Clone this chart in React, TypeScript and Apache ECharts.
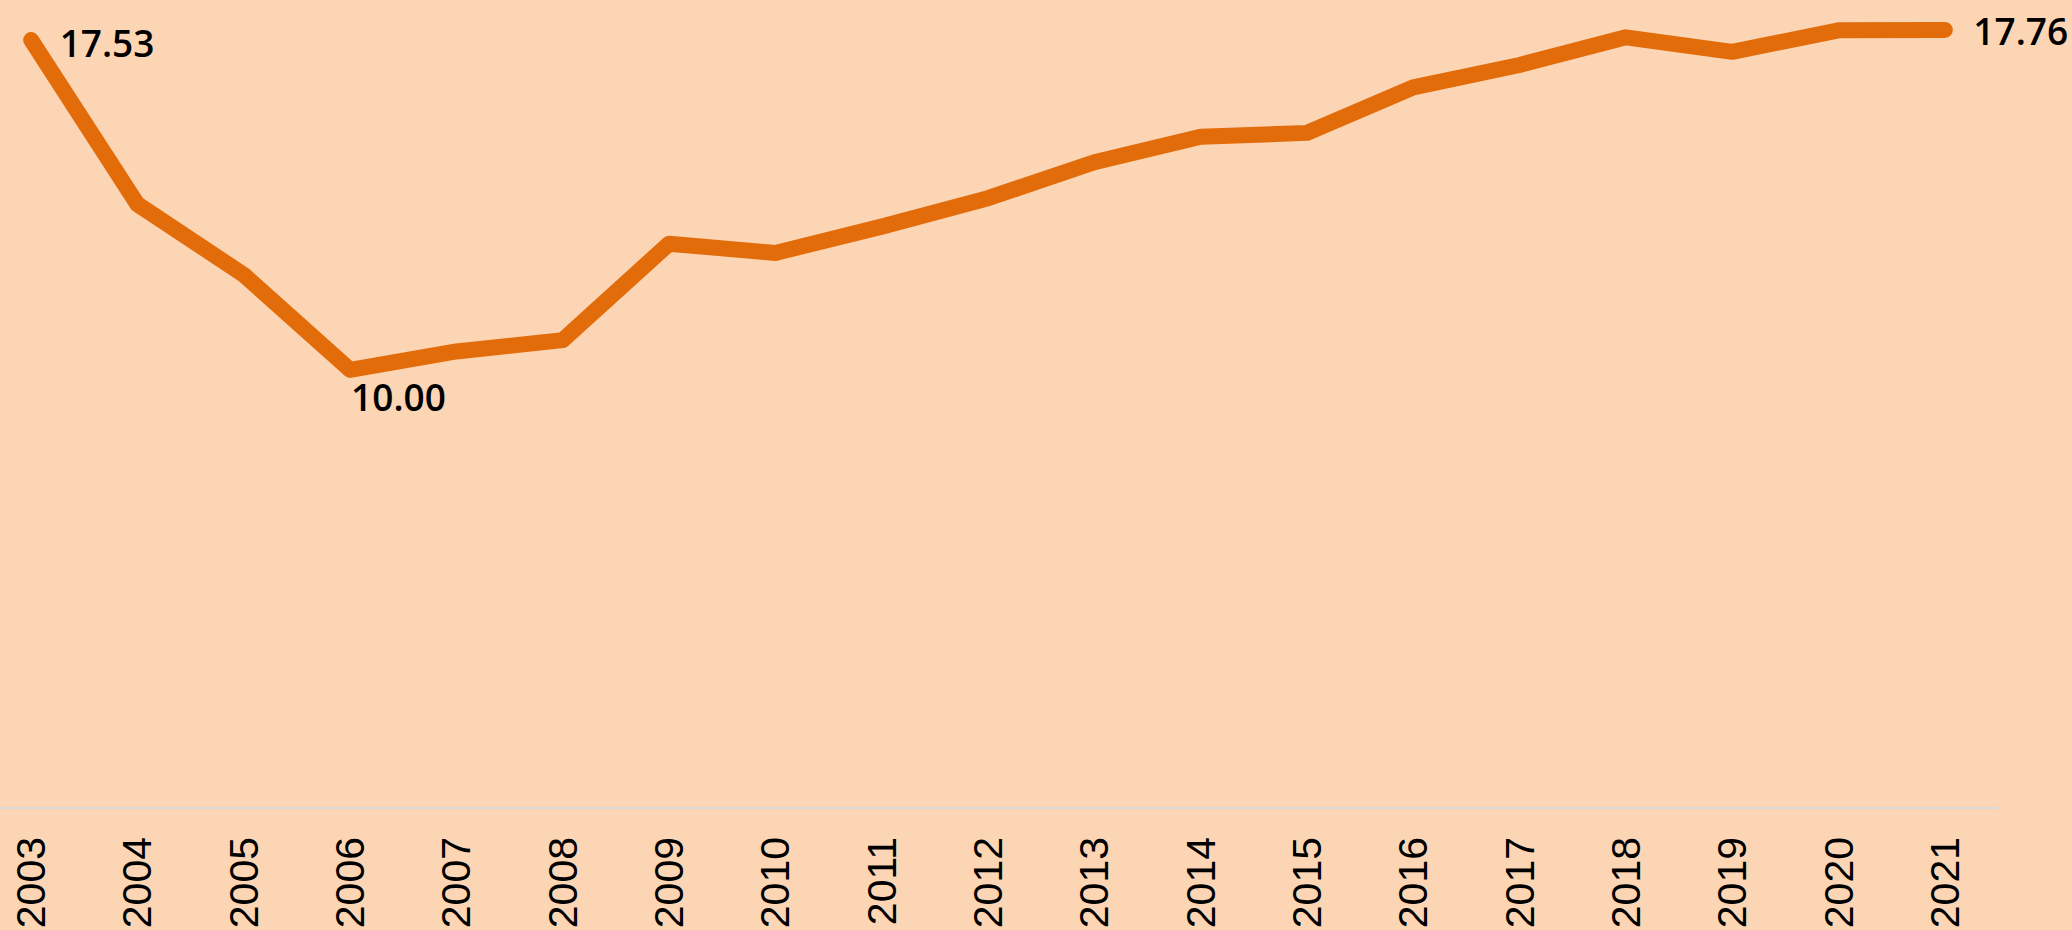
import React, { useEffect, useRef } from "react";
import * as echarts from "echarts";

const years = [
  "2003", "2004", "2005", "2006", "2007", "2008", "2009", "2010", "2011", "2012",
  "2013", "2014", "2015", "2016", "2017", "2018", "2019", "2020", "2021",
];
const values = [
  17.53, 13.78, 12.17, 10.0, 10.42, 10.68, 12.88, 12.67, 13.27, 13.92,
  14.74, 15.32, 15.41, 16.45, 16.96, 17.59, 17.26, 17.75, 17.76,
];
const labelledIndices = [0, 3, 18];

export default function App() {
  const ref = useRef<HTMLDivElement>(null);
  useEffect(() => {
    if (!ref.current) return;
    const chart = echarts.init(ref.current, undefined, { renderer: "svg" });
    const labelFont = {
      fontFamily: "'Open Sans', 'Noto Sans', sans-serif",
      fontSize: 37,
      fontWeight: 600,
      color: "#000000",
    };
    const data = values.map((v, i) => {
      if (!labelledIndices.includes(i)) return { value: v };
      let label: any;
      if (i === 3) {
        label = {
          show: true,
          position: "bottom",
          align: "left",
          distance: 8,
          offset: [1, 0],
          formatter: (p: any) => p.value.toFixed(2),
          ...labelFont,
        };
      } else {
        label = {
          show: true,
          position: "right",
          distance: 28,
          offset: [0, i === 0 ? 3 : 1],
          formatter: (p: any) => p.value.toFixed(2),
          ...labelFont,
        };
      }
      return { value: v, label };
    });
    chart.setOption({
      animation: false,
      backgroundColor: "#FCD5B5",
      grid: {
        left: -22,
        right: 74,
        top: 19.4,
        bottom: 122,
        containLabel: false,
        outerBoundsMode: "none",
      },
      xAxis: {
        type: "category",
        data: years,
        boundaryGap: true,
        axisLine: { show: true, lineStyle: { color: "#D9D9D9", width: 2 } },
        axisTick: { show: false },
        axisLabel: {
          rotate: 90,
          margin: 29,
          interval: 0,
          fontFamily: "'Liberation Sans', Arial, sans-serif",
          fontSize: 41,
          color: "#000000",
        },
        splitLine: { show: false },
      },
      yAxis: {
        type: "value",
        min: 0,
        max: 18,
        show: false,
        splitLine: { show: false },
      },
      series: [
        {
          type: "line",
          data,
          symbol: "circle",
          symbolSize: 1,
          showSymbol: true,
          itemStyle: { color: "#E36C0A" },
          lineStyle: { color: "#E36C0A", width: 16, cap: "round", join: "round" },
          label: { show: false },
        },
      ],
    });
    return () => chart.dispose();
  }, []);
  return (
    <div
      ref={ref}
      style={{ position: "fixed", left: 0, top: 0, width: 2072, height: 930 }}
    />
  );
}
